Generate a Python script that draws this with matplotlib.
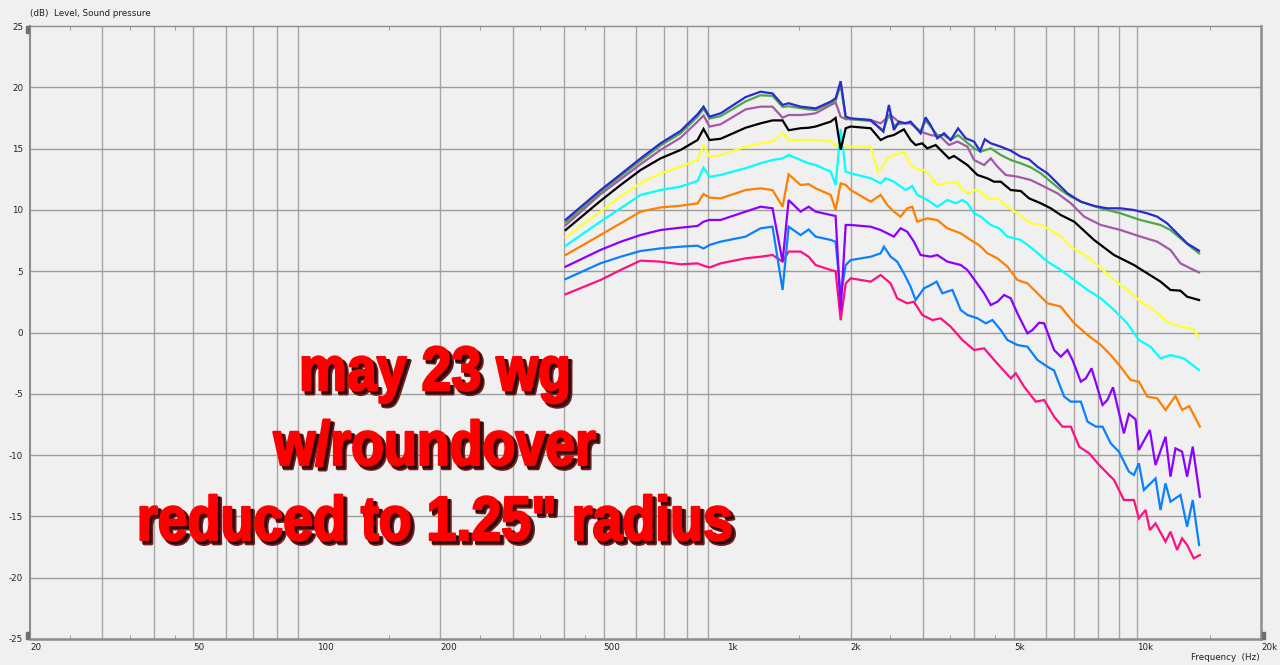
import matplotlib
matplotlib.use('agg')
import matplotlib.pyplot as plt
import matplotlib.colors as mcolors
from matplotlib.patheffects import AbstractPathEffect
from matplotlib.transforms import Affine2D
from matplotlib.patches import Rectangle

# shared low-frequency points (Hz)
f_low = [404, 491, 550, 615, 688, 770, 847, 876, 906, 964, 1109, 1206, 1290, 1365,
         1412, 1510, 1580, 1643, 1788, 1838, 1891, 1945, 2000, 2238]

# ---- blue (top)
blue_low = [9.2, 11.6, 12.9, 14.2, 15.43, 16.44, 17.8, 18.42, 17.6, 17.88, 19.2, 19.64,
            19.5, 18.56, 18.7, 18.42, 18.35, 18.28, 18.83, 19.1, 20.5, 17.6, 17.47, 17.33]
blue_hf = [2403, 2479, 2549, 2622, 2722, 2799, 2961, 3045, 3132, 3252, 3377, 3506, 3654,
           3814, 3998, 4135, 4245, 4390, 4643, 4911, 5195, 5444, 5704, 6034, 6383, 6752,
           7277, 7843, 8444, 9093, 9800, 10560, 11169, 11813, 12490, 13210, 14128]
blue_hdb = [16.38, 18.56, 16.52, 17.2, 17.06, 17.2, 16.25, 17.55, 16.92, 15.84, 16.25,
            15.7, 16.65, 15.84, 15.57, 14.8, 15.76, 15.43, 15.16, 14.83, 14.34, 14.12,
            13.52, 12.98, 12.17, 11.35, 10.67, 10.32, 10.13, 10.13, 9.99, 9.72, 9.45,
            8.9, 8.09, 7.27, 6.67]

# ---- green
green_low = [9.0, 11.45, 12.75, 14.0, 15.25, 16.25, 17.6, 18.25, 17.45, 17.65, 18.85, 19.35,
             19.3, 18.4, 18.45, 18.3, 18.2, 18.15, 18.7, 18.9, 20.2, 17.5, 17.4, 17.25]
green_hf = [2403, 2479, 2549, 2622, 2722, 2799, 2961, 3045, 3132, 3252, 3377, 3506, 3654,
            3998, 4150, 4390, 4643, 4911, 5195, 5495, 5812, 6148, 6503, 6880, 7277, 8142,
            9093, 10173, 11380, 12036, 12726, 13460, 14128]
green_hdb = [16.5, 17.8, 16.9, 17.0, 17.1, 17.1, 16.4, 17.3, 16.8, 16.1, 16.1, 15.7, 16.1,
             15.02, 14.75, 15.02, 14.48, 14.07, 13.8, 13.47, 12.98, 12.3, 11.62, 11.08,
             10.67, 10.13, 9.72, 9.17, 8.77, 8.36, 7.68, 7.0, 6.46]

# ---- mauve
mauve_low = [8.75, 11.27, 12.5, 13.72, 14.89, 15.89, 17.2, 17.7, 16.8, 16.98, 18.2, 18.42,
             18.42, 17.52, 17.74, 17.74, 17.8, 17.88, 18.56, 18.75, 17.6, 17.4, 17.4, 17.33]
mauve_hf = [2366, 2502, 2646, 2799, 2961, 3132, 3314, 3473, 3640, 3850, 3998, 4229, 4390,
            4557, 4775, 5098, 5495, 5922, 6383, 6880, 7415, 8142, 9093, 10173, 11169,
            12036, 12726, 13460, 14128]
mauve_hdb = [17.06, 17.74, 17.06, 17.06, 16.38, 16.11, 15.97, 15.29, 15.57, 15.16, 14.07,
             13.66, 14.2, 13.53, 12.85, 12.71, 12.44, 11.9, 11.35, 10.54, 9.45, 8.77, 8.36,
             7.82, 7.41, 6.73, 5.64, 5.23, 4.9]

# ---- black
black_low = [8.36, 10.73, 12.03, 13.25, 14.2, 14.89, 15.7, 16.6, 15.7, 15.8, 16.7, 17.06,
             17.3, 17.3, 16.5, 16.66, 16.7, 16.8, 17.2, 17.5, 14.9, 16.66, 16.8, 16.66]
black_hf = [2366, 2456, 2549, 2696, 2799, 2879, 2989, 3074, 3222, 3314, 3473, 3572, 3850,
            4073, 4309, 4473, 4643, 4911, 5195, 5444, 5812, 6148, 6503, 7010, 7843, 8767,
            9800, 10560, 11380, 12036, 12726, 13210, 14128]
black_hdb = [15.7, 15.97, 16.11, 16.57, 15.7, 15.29, 15.43, 15.02, 15.29, 14.88, 14.2, 14.4,
             13.66, 12.85, 12.57, 12.3, 12.3, 11.62, 11.54, 10.94, 10.54, 10.13, 9.58, 9.04,
             7.54, 6.32, 5.51, 4.83, 4.15, 3.47, 3.41, 2.92, 2.65]

# ---- yellow
yellow_low = [7.77, 9.86, 11.1, 12.17, 12.98, 13.52, 14.07, 15.3, 14.34, 14.48, 15.16, 15.43,
              15.56, 16.3, 15.7, 15.7, 15.7, 15.7, 15.6, 15.2, 15.4, 15.16, 15.16, 15.16]
yellow_hf = [2328, 2400, 2479, 2573, 2696, 2799, 2906, 3017, 3132, 3252, 3441, 3640, 3743,
             3887, 3998, 4150, 4309, 4557, 4820, 5098, 5495, 5812, 6148, 6503, 6880, 7555,
             8142, 8767, 9440, 10173, 10962, 11813, 12726, 13586, 14128]
yellow_hdb = [13.1, 13.6, 14.34, 14.48, 14.75, 13.66, 13.31, 13.25, 12.71, 12.03, 12.17,
              12.3, 11.62, 11.35, 11.62, 11.49, 10.94, 10.94, 10.26, 9.72, 8.9, 8.77, 8.36,
              7.82, 7.0, 6.19, 5.23, 4.28, 3.47, 2.51, 1.84, 0.88, 0.48, 0.34, -0.34]

# ---- cyan
cyan_low = [7.08, 9.04, 10.13, 11.22, 11.62, 11.9, 12.36, 13.45, 12.7, 12.85, 13.4, 13.8,
            14.07, 14.2, 14.48, 14.07, 13.8, 13.66, 13.12, 12.03, 16.6, 13.12, 12.98, 12.58]
cyan_hf = [2366, 2433, 2549, 2722, 2825, 2906, 3074, 3252, 3441, 3606, 3743, 3850, 3998,
           4150, 4390, 4600, 4820, 5195, 5598, 6034, 6503, 7010, 7555, 8142, 8767, 9440,
           10078, 10759, 11380, 12036, 12966, 13460, 14128]
cyan_hdb = [12.17, 12.57, 12.3, 11.62, 11.95, 11.22, 10.81, 10.26, 10.81, 10.54, 10.81,
            10.54, 9.72, 9.45, 8.77, 8.5, 7.82, 7.55, 6.73, 5.78, 5.1, 4.28, 3.47, 2.79,
            1.84, 0.75, -0.61, -1.16, -2.11, -1.84, -2.11, -2.52, -3.06]

# ---- orange
orange_low = [6.32, 7.95, 8.9, 9.86, 10.2, 10.34, 10.53, 11.3, 11.0, 10.94, 11.62, 11.76,
              11.62, 10.26, 12.9, 12.03, 12.1, 11.76, 11.22, 10.0, 12.17, 12.03, 11.62, 10.67]
orange_hf = [2366, 2456, 2549, 2646, 2747, 2825, 2906, 3074, 3252, 3441, 3708, 3923, 4112,
             4309, 4557, 4820, 5098, 5393, 5704, 6034, 6503, 7010, 7555, 8142, 8605, 9093,
             9618, 10078, 10560, 11169, 11704, 12375, 12845, 13366, 14193]
orange_hdb = [11.22, 10.4, 9.86, 9.45, 10.13, 10.26, 9.04, 9.31, 9.17, 8.5, 8.09, 7.54,
              7.13, 6.46, 6.05, 5.37, 4.28, 4.01, 3.2, 2.38, 2.11, 0.75, -0.2, -1.02, -1.84,
              -2.79, -3.88, -4.01, -5.23, -5.37, -6.32, -5.18, -6.32, -6.0, -7.68]

# ---- violet
violet_low = [5.37, 6.73, 7.4, 7.95, 8.36, 8.55, 8.69, 9.04, 9.18, 9.18, 9.86, 10.26, 10.13,
              5.78, 10.8, 9.86, 10.26, 9.86, 9.59, 9.5, 1.8, 8.77, 8.77, 8.63]
violet_hf = [2366, 2549, 2646, 2747, 2852, 2961, 3132, 3252, 3441, 3708, 3850, 4036, 4229,
             4390, 4557, 4731, 4911, 5098, 5393, 5546, 5758, 5922, 6264, 6503, 6752, 6944,
             7277, 7485, 7727, 8219, 8444, 8717, 9265, 9529, 9892, 10078, 10718, 11065,
             11704, 12036, 12375, 12845, 13210, 13636, 14193]
violet_hdb = [8.36, 7.82, 8.5, 8.22, 7.41, 6.32, 6.19, 6.32, 5.78, 5.51, 5.1, 4.15, 3.2,
              2.24, 2.51, 3.06, 2.79, 1.56, -0.07, 0.2, 0.8, 0.75, -1.43, -1.97, -1.43,
              -2.24, -4.01, -3.74, -2.92, -5.91, -5.51, -4.47, -8.23, -6.65, -7.08, -9.58,
              -7.95, -10.81, -8.5, -11.76, -9.45, -9.72, -11.76, -9.31, -13.39]

# ---- azure
azure_low = [4.36, 5.64, 6.18, 6.65, 6.86, 7.0, 7.08, 6.85, 7.14, 7.41, 7.82, 8.5, 8.63,
             3.47, 8.63, 7.95, 8.4, 7.82, 7.55, 7.4, 3.0, 5.5, 5.91, 6.18]
azure_hf = [2366, 2411, 2502, 2597, 2696, 2799, 2879, 3017, 3132, 3240, 3345, 3539, 3708,
            3850, 4073, 4269, 4431, 4643, 4820, 5098, 5393, 5704, 6034, 6264, 6626, 6880,
            7277, 7555, 7917, 8219, 8605, 9011, 9529, 9800, 10078, 10364, 11065, 11380,
            11704, 12036, 12726, 13210, 13636, 14128]
azure_hdb = [6.46, 7.0, 6.19, 5.78, 4.83, 3.74, 2.65, 3.6, 3.87, 4.15, 3.2, 3.47, 1.84,
             1.43, 1.16, 0.75, 1.02, 0.2, -0.61, -1.02, -1.16, -2.24, -2.79, -3.11, -5.23,
             -5.64, -5.64, -7.27, -7.68, -7.68, -9.04, -9.72, -11.35, -11.62, -10.67,
             -12.85, -11.9, -14.48, -12.3, -13.8, -13.25, -15.84, -13.66, -17.33]

# ---- pink (bottom)
pink_low = [3.12, 4.28, 5.1, 5.86, 5.78, 5.56, 5.64, 5.45, 5.3, 5.64, 6.05, 6.18, 6.32,
            5.78, 6.6, 6.6, 6.18, 5.5, 5.1, 5.0, 1.0, 4.0, 4.42, 4.15]
pink_hf = [2366, 2502, 2597, 2747, 2852, 2989, 3162, 3314, 3506, 3743, 3998, 4229, 4473,
           4911, 5051, 5293, 5651, 5922, 6264, 6565, 6880, 7209, 7626, 8066, 8767, 9265,
           9800, 10078, 10462, 10718, 11065, 11704, 12036, 12490, 12845, 13210, 13713, 14193]
pink_hdb = [4.69, 4.01, 2.79, 2.38, 2.51, 1.43, 1.02, 1.15, 0.47, -0.61, -1.43, -1.29,
            -2.24, -3.74, -3.33, -4.42, -5.64, -5.51, -6.87, -7.68, -7.68, -9.31, -9.86,
            -10.81, -12.03, -13.66, -13.66, -15.16, -14.48, -16.11, -15.57, -17.06, -16.25,
            -17.74, -16.79, -17.33, -18.42, -18.15]

curves = [
    ('#ff1080', pink_low, pink_hf, pink_hdb),
    ('#0a80ff', azure_low, azure_hf, azure_hdb),
    ('#8c00ff', violet_low, violet_hf, violet_hdb),
    ('#ff8000', orange_low, orange_hf, orange_hdb),
    ('#00ffff', cyan_low, cyan_hf, cyan_hdb),
    ('#ffff33', yellow_low, yellow_hf, yellow_hdb),
    ('#000000', black_low, black_hf, black_hdb),
    ('#a558a8', mauve_low, mauve_hf, mauve_hdb),
    ('#4ca84c', green_low, green_hf, green_hdb),
    ('#2a2ad0', blue_low, blue_hf, blue_hdb),
]

x_labels = ['20', '50', '100', '200', '500', '1k', '2k', '5k', '10k', '20k']
x_label_f = [20, 50, 100, 200, 500, 1000, 2000, 5000, 10000, 20000]
y_ticks = [25, 20, 15, 10, 5, 0, -5, -10, -15, -20, -25]

title_txt = "(dB)  Level, Sound pressure"
xname_txt = "Frequency  (Hz)"
note_lines = ["may 23 wg", "w/roundover", 'reduced to 1.25" radius']


class Narrow(AbstractPathEffect):
    """draws text squeezed horizontally around each line's centre"""
    def __init__(self, sx=0.86, offset=(0, 0), color=None, lw=None):
        super().__init__(offset)
        self.sx = sx
        self.color = color
        self.lw = lw

    def draw_path(self, renderer, gc, tpath, affine, rgbFace=None):
        ext = tpath.get_extents()
        cx = 0.5 * (ext.x0 + ext.x1)
        squeeze = Affine2D().translate(-cx, 0).scale(self.sx, 1).translate(cx, 0)
        gc0 = renderer.new_gc()
        gc0.copy_properties(gc)
        face = rgbFace
        if self.color is not None:
            face = mcolors.to_rgba(self.color)
        gc0.set_foreground(face)
        if self.lw is not None:
            gc0.set_linewidth(self.lw)
        renderer.draw_path(gc0, tpath, squeeze + affine + self._offset_transform(renderer), face)
        gc0.restore()


bg = '#f0f0f0'
fig = plt.figure(figsize=(12.8, 6.65), dpi=100, facecolor=bg)
ax = fig.add_axes([30 / 1280, 26 / 665, 1231 / 1280, 613 / 665], facecolor=bg)
ax.set_xscale('log')
ax.set_xlim(20, 20000)
ax.set_ylim(-25, 25)

# grid
grid_f = [m * d for d in (10, 100, 1000) for m in range(2, 10)] + [10000]
for g in grid_f:
    if g > 20:
        ax.axvline(g, color='#a6a6a6', lw=1.0, zorder=1)
for yv in y_ticks[1:-1]:
    ax.axhline(yv, color='#9c9c9c', lw=1.0, zorder=1)

for color, low, hf, hdb in curves:
    ax.plot(f_low + hf, low + hdb, color=color, lw=1.6, zorder=3,
            solid_joinstyle='miter')

for side in ['left', 'bottom', 'right', 'top']:
    ax.spines[side].set_color('#8c8c8c')
ax.spines['left'].set_linewidth(1.5)
ax.spines['bottom'].set_linewidth(1.8)
ax.spines['right'].set_linewidth(1.8)
ax.spines['top'].set_linewidth(1.0)

ax.set_xticks(x_label_f)
ax.set_xticklabels(x_labels, ha='left', fontsize=6.3, color='#222222')
ax.set_xticks([25, 35, 45, 150, 250, 350, 450, 1500, 2500, 3500, 4500, 15000], minor=True)
ax.tick_params(axis='x', which='major', length=0, pad=3)
ax.tick_params(axis='x', which='minor', direction='in', length=3, color='#909090',
               top=True, bottom=True, labelbottom=False)
ax.set_yticks(y_ticks)
ax.set_yticklabels([str(v) for v in y_ticks], fontsize=6.3, color='#222222')
ax.tick_params(axis='y', length=0, pad=5)
ax.yaxis.set_minor_locator(matplotlib.ticker.NullLocator())

# little grey handles at the corners
for (x0, y0) in [(-4 / 1231, 1 - 7 / 613), (-4 / 1231, 0), (1.0008, 0)]:
    ax.add_patch(Rectangle((x0, y0), 3 / 1231, 7 / 613, transform=ax.transAxes,
                           color='#707070', clip_on=False, zorder=5))

fig.text(30 / 1280, 1 - 13 / 665, title_txt, fontsize=6.3, color='#222222',
         ha='left', va='center')
fig.text(1260 / 1280, 1 - 657 / 665, xname_txt, fontsize=6.3, color='#222222',
         ha='right', va='center')

note_y = [0.406, 0.284, 0.1615]
for line, yy in zip(note_lines, note_y):
    ax.text(0.329, yy, line, transform=ax.transAxes, ha='center', va='baseline',
            fontsize=45, fontweight='bold', family=['Liberation Sans', 'DejaVu Sans'],
            color='#ff0000', zorder=6,
            path_effects=[Narrow(0.86, offset=(2.6, -2.6), color='#6a2020', lw=2.5),
                          Narrow(0.86, offset=(2.0, -2.0), color='#300000', lw=1.2),
                          Narrow(0.86, lw=1.6)])

fig.savefig('out.png', dpi=100, facecolor=bg)
